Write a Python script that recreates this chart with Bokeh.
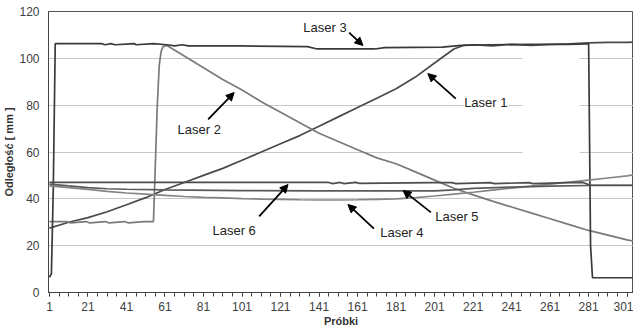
from bokeh.plotting import figure
from bokeh.models import (FixedTicker, Label, Arrow, NormalHead, BoxAnnotation, Range1d)
from bokeh.embed import file_html
from bokeh.resources import INLINE

# ---- data ----
laser1_x = [1, 11, 21, 31, 41, 51, 61, 71, 81, 91, 101, 111, 121, 131, 141, 151, 161, 171, 181,
            191, 201, 206, 211, 216, 221, 231, 241, 251, 261, 271, 281, 291, 301, 304]
laser1_y = [27.5, 30, 32, 34.5, 37.5, 40.5, 44, 47, 50, 53, 56.5, 60, 63.5, 67, 71, 75, 79, 83, 87,
            92, 98, 101, 104, 105.5, 105.8, 105.3, 106, 105.5, 106, 106.2, 106.6, 106.8, 106.8, 106.9]

laser2_x = [1, 10, 12, 20, 22, 30, 32, 40, 42, 50, 55, 56, 57, 58, 59, 60, 62, 71, 81, 91, 101, 111,
            121, 131, 141, 151, 161, 171, 181, 191, 201, 211, 221, 231, 241, 251, 261, 271, 281,
            291, 301, 304]
laser2_y = [30.3, 30.3, 29.7, 30.3, 29.7, 30.3, 29.7, 30.3, 29.7, 30.3, 30.3, 55, 80, 97, 103, 105,
            105.5, 101, 96, 91, 86.5, 81.5, 77, 72.5, 68, 64.5, 61, 57.5, 55, 51.5, 48, 44.5, 41.7,
            39, 36.5, 34, 31.5, 29, 26.5, 24.5, 22.5, 22]

laser3_x = [1, 2, 3, 4, 28, 30, 33, 35, 45, 46, 55, 62, 66, 70, 73, 100, 135, 140, 170, 175, 205,
            215, 230, 250, 270, 280, 281, 282, 283, 304]
laser3_y = [6.5, 8, 45, 106.3, 106.3, 105.8, 106.3, 105.8, 106.3, 105.8, 106.3, 105.8, 105.3, 105.8,
            105.3, 105.3, 105, 104, 104, 104.6, 104.8, 105.5, 105.8, 106, 106, 106.2, 106.2, 20, 6.3, 6.3]

laser4_x = [1, 11, 21, 31, 41, 51, 61, 71, 81, 91, 101, 111, 121, 131, 141, 151, 161, 171, 181, 191,
            201, 211, 221, 231, 241, 251, 261, 271, 281, 291, 301, 304]
laser4_y = [45.5, 44.8, 44, 43.2, 42.5, 42, 41.5, 41, 40.6, 40.4, 40.1, 39.9, 39.8, 39.6, 39.5, 39.5,
            39.6, 39.8, 40, 40.5, 41.2, 42, 42.8, 43.7, 44.6, 45.4, 46.3, 47.1, 48, 48.9, 49.8, 50.2]

laser5_x = [1, 11, 21, 31, 41, 61, 101, 141, 181, 201, 211, 221, 241, 261, 281, 304]
laser5_y = [46.3, 45.5, 44.8, 44.3, 44.1, 43.8, 43.5, 43.4, 43.4, 43.4, 43.8, 44.5, 45.0, 45.4, 45.7, 45.7]

laser6_x = [1, 100, 146, 148, 152, 154, 160, 162, 200, 210, 212, 230, 232, 250, 252, 270, 278, 282, 304]
laser6_y = [47, 47, 47, 46.5, 47, 46.5, 47, 46.6, 46.9, 46.9, 46.5, 46.9, 46.5, 46.9, 46.5, 46.9, 47, 45.8, 45.8]

x_ticks = [1, 21, 41, 61, 81, 101, 121, 141, 161, 181, 201, 221, 241, 261, 281, 301]
y_ticks = [0, 20, 40, 60, 80, 100, 120]

series = [
    (laser1_x, laser1_y, "#4a4a4a"),
    (laser2_x, laser2_y, "#7a7a7a"),
    (laser3_x, laser3_y, "#3a3a3a"),
    (laser4_x, laser4_y, "#858585"),
    (laser5_x, laser5_y, "#5a5a5a"),
    (laser6_x, laser6_y, "#4d4d4d"),
]

# annotation placements: (text, text_x, text_y, arrow_x0, arrow_y0, arrow_x1, arrow_y1)
notes = [
    ("Laser 3", 144.1, 113.2, 156.6, 111.0, 163.8, 105.5),
    ("Laser 1", 227.6, 81.1, 212.0, 82.8, 197.5, 93.5),
    ("Laser 2", 78.8, 69.6, 83.4, 73.9, 96.9, 85.4),
    ("Laser 6", 96.9, 26.5, 109.9, 32.5, 124.9, 46.1),
    ("Laser 4", 184.0, 25.6, 169.5, 27.3, 156.0, 37.6),
    ("Laser 5", 212.6, 32.5, 199.1, 34.2, 184.6, 43.6),
]

p = figure(width=633, height=329, output_backend="svg", toolbar_location=None,
           x_range=Range1d(0.5, 304.3), y_range=Range1d(0, 120),
           min_border_left=47, min_border_right=0, min_border_top=11, min_border_bottom=37)
p.background_fill_color = "white"
p.border_fill_color = "white"
p.outline_line_color = "#555555"
p.outline_line_width = 1

p.xgrid.visible = False
p.ygrid.ticker = FixedTicker(ticks=y_ticks)
p.ygrid.grid_line_color = "#c8c8c8"
p.ygrid.grid_line_width = 1

# white box that interrupts gridlines near the Laser 1 label
p.add_layout(BoxAnnotation(left=246.7, right=276.3, bottom=48, top=103,
                           fill_color="white", fill_alpha=1, line_alpha=0, level="underlay"))

for xs, ys, c in series:
    p.line(xs, ys, line_color=c, line_width=1.7)

for txt, tx, ty, ax0, ay0, ax1, ay1 in notes:
    p.add_layout(Label(x=tx, y=ty, text=txt, text_align="center", text_baseline="middle",
                       text_font="Liberation Sans", text_font_size="13px", text_color="#222222",
                       background_fill_color="white", background_fill_alpha=1))
    p.add_layout(Arrow(x_start=ax0, y_start=ay0, x_end=ax1, y_end=ay1, line_color="black",
                       line_width=1.8,
                       end=NormalHead(size=8, fill_color="black", line_color="black")))

xa = p.xaxis[0]
xa.ticker = FixedTicker(ticks=x_ticks, minor_ticks=list(range(1, 305, 5)))
xa.axis_label = "Próbki"
xa.major_tick_in = 0
xa.major_tick_out = 4
xa.minor_tick_in = 0
xa.minor_tick_out = 4
xa.major_label_standoff = 5
xa.axis_label_standoff = 1

ya = p.yaxis[0]
ya.ticker = FixedTicker(ticks=y_ticks)
ya.axis_label = "Odległość [ mm ]"
ya.major_tick_in = 0
ya.major_tick_out = 0
ya.minor_tick_line_color = None
ya.major_label_standoff = 9
ya.axis_label_standoff = 1

for ax in (xa, ya):
    ax.axis_line_color = "#444444"
    ax.major_tick_line_color = "#444444"
    ax.minor_tick_line_color = "#444444" if ax is xa else None
    ax.major_label_text_font = "Liberation Sans"
    ax.major_label_text_font_size = "12px"
    ax.major_label_text_color = "#404040"
    ax.axis_label_text_font = "Liberation Sans"
    ax.axis_label_text_font_size = "11px"
    ax.axis_label_text_font_style = "bold"
    ax.axis_label_text_color = "#333333"

open("out.html", "w").write(file_html(p, INLINE))
